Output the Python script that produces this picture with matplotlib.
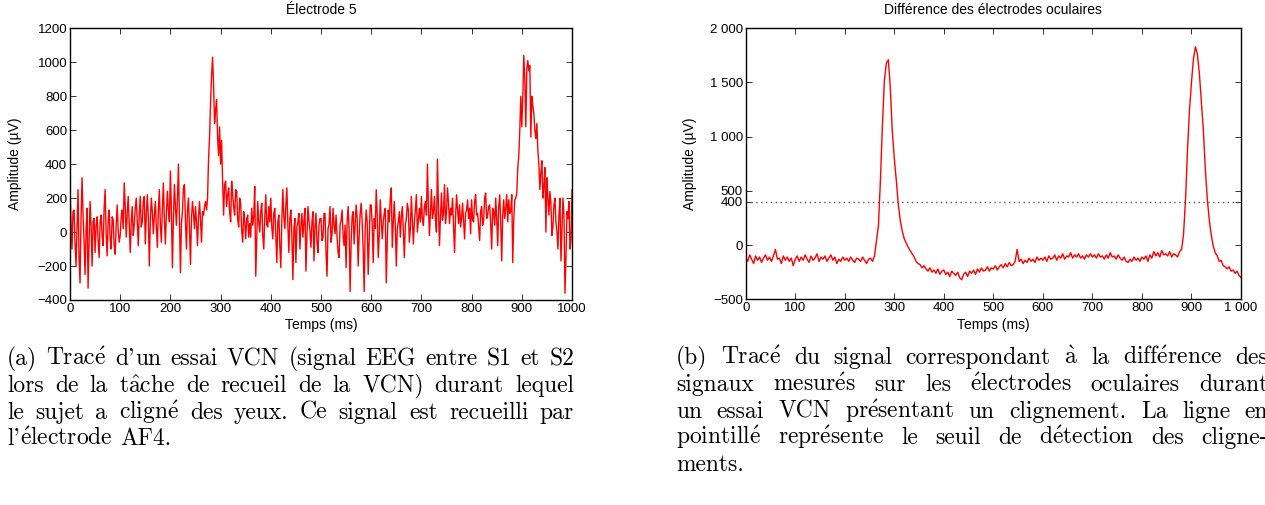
import numpy as np
import matplotlib
matplotlib.use("Agg")
import matplotlib.pyplot as plt
from matplotlib.ticker import FixedLocator, FixedFormatter

# ---------------- data ----------------
left_step_ms = 2
electrode5 = [
    270, 60, -100, 120, 130, -60, -200, 20, 250, -150, -300, 80, 320, 100, -50, -250, 10, 140, -330, -60, 180, 40, -200, 60, 80,
    -120, 40, 90, -50, -150, 60, 100, -20, -80, 140, 250, -10, -140, 70, 130, -40, -100, 90, 70, -80, -130, 40, 160, 10, -60,
    -20, 90, 130, 20, 290, 150, -30, 110, 210, 40, -120, 60, 150, -20, 40, 140, 200, 60, -80, 110, 210, 30, 60, 180, 210,
    -70, 100, 220, 90, -200, 60, 200, 120, -10, 100, 180, 30, -90, 130, 250, 40, -60, 140, 290, 80, -70, 110, 240, 130, 60,
    360, 120, -210, 80, 280, 150, 40, 190, 400, 90, -240, 50, 120, 260, 280, 60, -100, 130, 200, 20, -190, 80, 180, 110, 20,
    150, 60, -80, 90, 180, 70, -60, 120, 100, 150, 180, 130, 200, 430, 560, 760, 920, 1030, 870, 640, 720, 780, 560, 450, 620,
    400, 540, 300, 100, 280, 300, 150, 220, 260, 120, 60, 300, 220, 150, 100, 250, 240, 80, 30, 200, 170, 10, -60, 120, 60,
    -40, 80, 100, -30, 50, -30, 140, 40, 90, 270, -260, -50, 180, 60, 0, 120, 170, -20, -100, 90, 220, 40, 30, 150, 60,
    200, 30, -40, 110, 140, -20, -180, 60, 100, -80, -210, 70, 250, 90, 20, 160, 260, 40, -120, 80, 130, -30, -280, 20, 80,
    -180, 30, 60, 110, -100, 40, 110, -30, 60, 140, -230, -20, 150, 70, 10, -90, 60, 120, -170, 30, 110, -60, -120, 40, 80,
    80, -50, -30, 110, 110, -120, -260, 20, 50, 150, -60, -10, 140, 40, -10, 100, -30, -120, -150, 40, 70, 130, -20, -80, 40,
    -210, 60, 150, 20, -350, -60, 90, 120, -70, 40, 160, 80, -200, -20, 110, 170, 60, -100, -350, 20, 130, 60, -250, -40, 160,
    160, 40, -180, 80, 20, 250, 100, -150, -20, 190, 80, -40, 60, 110, 140, -300, -60, 130, 60, 200, 260, -90, 60, 180, 40,
    -200, 20, 60, 120, -30, 90, 150, 10, -150, 40, 80, 170, 130, -60, 20, 210, 70, -70, 60, 130, 220, 0, 70, 140, 60,
    210, 80, 40, 150, 180, 100, 400, 150, -20, 110, 250, 80, 120, 210, 70, 0, 430, 140, -80, 90, 230, 70, 110, 280, 50,
    120, 260, 170, 50, 140, 100, 200, 40, -120, 90, 220, 130, 50, 160, 30, 80, 170, 60, -40, 110, 130, 190, 80, 140, -10,
    190, 70, 60, 180, 220, 100, 110, 30, -50, 120, 150, 40, 70, 200, 230, 80, 100, 150, 160, 50, -100, 140, 120, 40, 200,
    80, -80, 150, 220, 60, -170, 100, 190, 80, 140, 220, 60, 190, 110, 120, 220, -180, 80, 190, 200, 230, 380, 450, 600, 800,
    620, 800, 1040, 900, 620, 960, 1010, 950, 980, 560, 800, 740, 700, 600, 550, 640, 480, 400, 250, 350, 420, 200, 270, 380, 0,
    320, 200, 100, 240, 170, -20, 30, 160, 200, 60, 0, -100, 100, 200, -170, 20, 200, 100, -360, -150, 120, 80, 180, -100, -50, 250,
]
right_step_ms = 4
ocular_diff = [
    -120, -150, -90, -130, -170, -100, -140, -110, -160, -120, -90, -140, -110, -150, -100, -40, -130, -120, -170, -100, -140, -110, -150, -120, -190,
    -130, -100, -150, -110, -140, -90, -130, -160, -100, -140, -120, -80, -150, -110, -130, -100, -150, -120, -90, -140, -110, -170, -130, -150, -110,
    -140, -120, -150, -110, -140, -160, -120, -130, -150, -110, -140, -170, -130, -120, -150, -100, 40, 180, 600, 1100, 1520, 1680, 1710, 1450, 1050,
    800, 600, 380, 230, 130, 60, 20, -20, -50, -80, -110, -150, -170, -180, -210, -190, -220, -240, -210, -250, -230, -260, -220, -270, -240,
    -230, -270, -250, -290, -240, -260, -280, -250, -300, -320, -270, -250, -290, -240, -260, -230, -270, -220, -250, -210, -240, -230, -200, -240, -210,
    -220, -190, -230, -200, -180, -210, -170, -200, -160, -190, -180, -150, -40, -150, -130, -170, -140, -160, -120, -150, -130, -160, -110, -140, -120,
    -140, -110, -150, -100, -130, -120, -90, -140, -100, -120, -80, -130, -100, -110, -70, -120, -90, -110, -80, -120, -100, -130, -90, -110, -80,
    -110, -90, -120, -80, -110, -100, -130, -90, -120, -70, -110, -100, -130, -90, -120, -140, -110, -150, -160, -130, -150, -110, -140, -120, -150,
    -110, -130, -100, -150, -90, -120, -60, -100, -70, -110, -50, -90, -80, -100, -60, -110, -80, -90, -110, -60, -40, 100, 420, 880, 1250,
    1500, 1720, 1830, 1760, 1580, 1320, 1060, 700, 420, 230, 90, -10, -70, -100, -150, -140, -190, -200, -220, -200, -240, -230, -260, -240, -280, -300,
]
threshold = 400
assert len(electrode5) == 501 and len(ocular_diff) == 251

left_xticks = [0, 100, 200, 300, 400, 500, 600, 700, 800, 900, 1000]
left_xlabels = ["0", "100", "200", "300", "400", "500", "600", "700", "800", "900", "1000"]
left_yticks = [-400, -200, 0, 200, 400, 600, 800, 1000, 1200]
left_ylabels = ["\u2212400", "\u2212200", "0", "200", "400", "600", "800", "1000", "1200"]
right_xticks = left_xticks
right_xlabels = ["0", "100", "200", "300", "400", "500", "600", "700", "800", "900", "1 000"]
right_yticks = [-500, 0, 400, 500, 1000, 1500, 2000]
right_ylabels = ["\u2212500", "0", "400", "500", "1 000", "1 500", "2 000"]

title_left = "Électrode 5"
title_right = "Différence des électrodes oculaires"
xlabel = "Temps (ms)"
ylabel = "Amplitude (µV)"
caption_a = ["(a) Tracé d'un essai VCN (signal EEG entre S1 et S2",
             "lors de la tâche de recueil de la VCN) durant lequel",
             "le sujet a cligné des yeux. Ce signal est recueilli par",
             "l'électrode AF4."]
caption_b = ["(b) Tracé du signal correspondant à la différence des",
             "signaux mesurés sur les électrodes oculaires durant",
             "un essai VCN présentant un clignement. La ligne en",
             "pointillé représente le seuil de détection des cligne-",
             "ments."]

# ---------------- figure ----------------
plt.rcParams["font.family"] = ["Liberation Sans", "DejaVu Sans"]
plt.rcParams["mathtext.fontset"] = "cm"
W, H = 1265, 505
fig = plt.figure(figsize=(W / 100, H / 100), dpi=100)
renderer = fig.canvas.get_renderer()


def px_axes(x0, x1, ytop, ybot):
    return fig.add_axes([x0 / W, 1 - ybot / H, (x1 - x0) / W, (ybot - ytop) / H])


def style(ax, xt, xl, yt, yl, ylim, title):
    ax.set_xlim(0, 1000)
    ax.set_ylim(*ylim)
    ax.xaxis.set_major_locator(FixedLocator(xt))
    ax.xaxis.set_major_formatter(FixedFormatter(xl))
    ax.yaxis.set_major_locator(FixedLocator(yt))
    ax.yaxis.set_major_formatter(FixedFormatter(yl))
    ax.tick_params(direction="in", length=4, width=0.7, top=True, right=True,
                   labelsize=9.5, pad=2, color="#333333")
    for s in ax.spines.values():
        s.set_linewidth(1.0)
    ax.set_title(title, fontsize=10, pad=10)
    ax.set_xlabel(xlabel, fontsize=10)
    ax.set_ylabel(ylabel, fontsize=10)


t = np.arange(len(electrode5)) * left_step_ms
ax1 = px_axes(70, 572, 28.3, 300)
ax1.plot(t, electrode5, color="red", lw=1.0)
style(ax1, left_xticks, left_xlabels, left_yticks, left_ylabels, (-400, 1200), title_left)
ax1.xaxis.set_label_coords(0.5, -0.068)
ax1.yaxis.set_label_coords(-0.096, 0.5)

t2 = np.arange(len(ocular_diff)) * right_step_ms
ax2 = px_axes(745.7, 1241, 28.3, 299.3)
ax2.plot(t2, ocular_diff, color="red", lw=1.0)
ax2.axhline(threshold, color="#555555", lw=1.0, ls=(0, (1, 2.5)))
style(ax2, right_xticks, right_xlabels, right_yticks, right_ylabels, (-500, 2000), title_right)
ax2.xaxis.set_label_coords(0.5, -0.068)
ax2.yaxis.set_label_coords(-0.098, 0.5)

# ---------------- captions (Computer Modern, justified) ----------------
ACC = {"é": r"\acute{e}", "â": r"\hat{a}", "à": r"\grave{a}"}
cap = {"size": 10.0}


def segments(word):
    """split a word into (string, is_math) pieces; text up to an apostrophe stays plain"""
    parts = []
    if "'" in word:
        head, tail = word.split("'", 1)
        parts.append((head + "'", False))
        word = tail
    if any(c in ACC for c in word):
        parts.append(("$\\mathrm{" + "".join(ACC.get(c, c) for c in word) + "}$", True))
    elif word:
        parts.append((word, False))
    return parts


def put(x, y, s):
    return fig.text(x / W, 1 - y / H, s, family=["cmr10", "DejaVu Serif"], fontsize=cap["size"],
                    color="black", ha="left", va="baseline")


def width(s):
    tt = put(0, -100, s)
    w = tt.get_window_extent(renderer).width
    tt.remove()
    return w


def word_width(word):
    return sum(width(s) for s, _ in segments(word))


def natural(line):
    words = line.split(" ")
    return sum(word_width(w) for w in words) + (len(words) - 1) * (width("a b") - width("ab"))


# size chosen so the widest justified line of caption (a) fits its column with normal spacing
nat = max(natural(l) for l in caption_a[:3])
cap["size"] = 10.0 * 556 / nat
space_w = width("a b") - width("ab")


def draw_paragraph(lines, x0, y0, target, lead):
    for i, line in enumerate(lines):
        words = line.split(" ")
        ws = [word_width(w) for w in words]
        last = i == len(lines) - 1
        gap = space_w if (last or len(words) < 2) else (target - sum(ws)) / (len(words) - 1)
        x = x0
        y = y0 + lead * i
        for w, ww in zip(words, ws):
            xx = x
            for s, _ in segments(w):
                put(xx, y, s)
                xx += width(s)
            x += ww + gap


draw_paragraph(caption_a, 7, 365, 567, 26.8)
draw_paragraph(caption_b, 676, 364, 592, 26.8)

fig.savefig("out.png", dpi=100)
